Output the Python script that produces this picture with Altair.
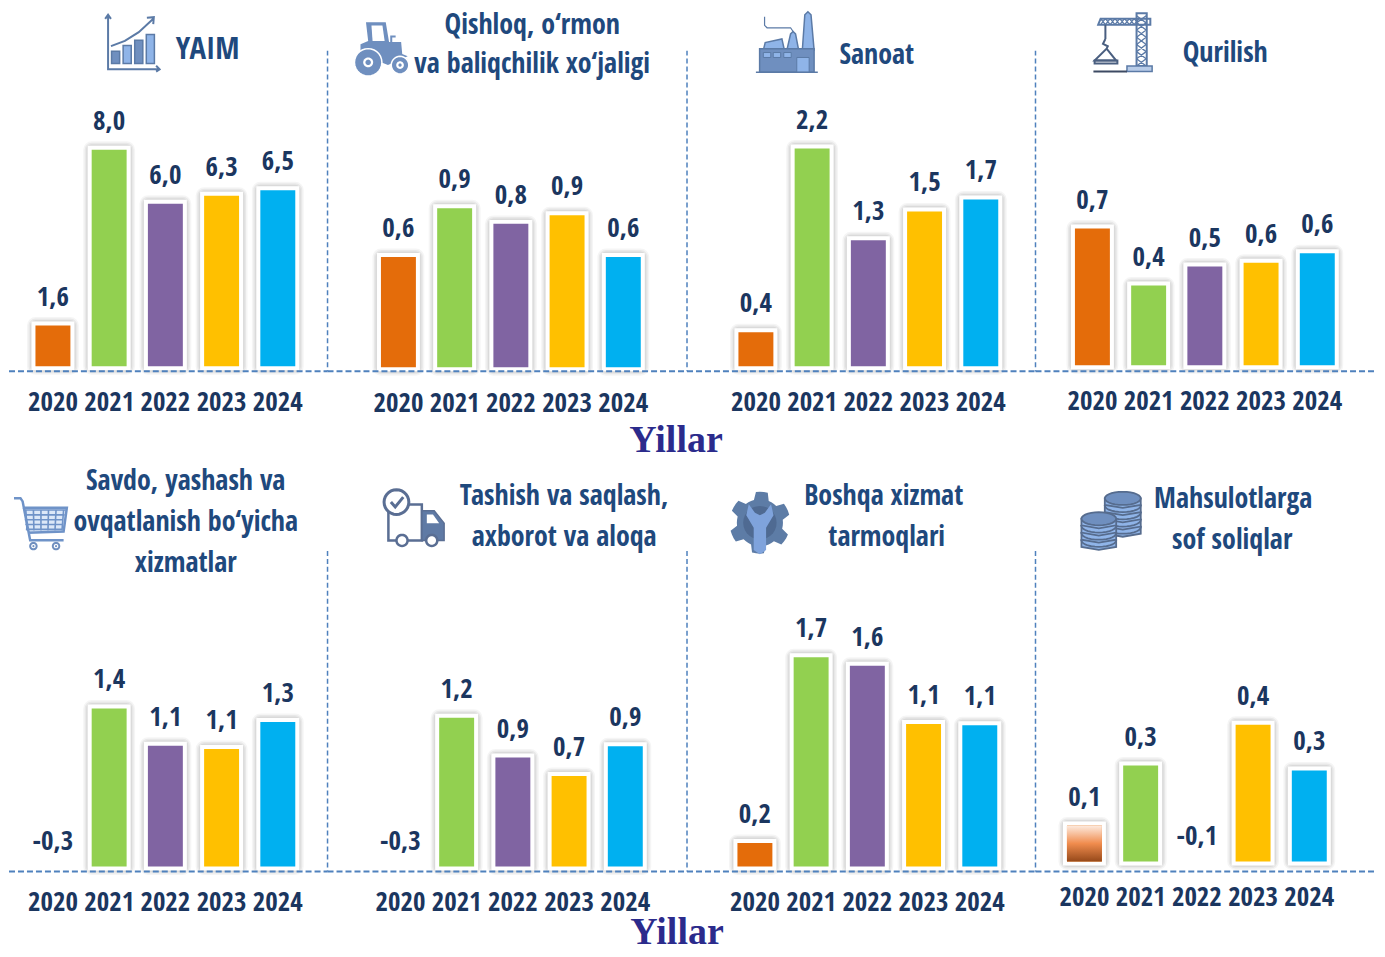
import math
import altair as alt
import pandas as pd

YEARS = ["2020", "2021", "2022", "2023", "2024"]
COLORS = ["#E46C0A", "#92D050", "#8064A2", "#FFC000", "#00B0F0"]

yaim_values = [1.5, 8.0, 6.0, 6.3, 6.5]
yaim_labels = ["1,6", "8,0", "6,0", "6,3", "6,5"]
qishloq_values = [0.63, 0.91, 0.82, 0.87, 0.63]
qishloq_labels = ["0,6", "0,9", "0,8", "0,9", "0,6"]
sanoat_values = [0.34, 2.18, 1.26, 1.55, 1.67]
sanoat_labels = ["0,4", "2,2", "1,3", "1,5", "1,7"]
qurilish_values = [0.72, 0.42, 0.52, 0.54, 0.59]
qurilish_labels = ["0,7", "0,4", "0,5", "0,6", "0,6"]
savdo_values = [None, 1.40, 1.07, 1.04, 1.28]
savdo_labels = ["-0,3", "1,4", "1,1", "1,1", "1,3"]
tashish_values = [None, 1.20, 0.88, 0.73, 0.97]
tashish_labels = ["-0,3", "1,2", "0,9", "0,7", "0,9"]
boshqa_values = [0.19, 1.69, 1.62, 1.15, 1.14]
boshqa_labels = ["0,2", "1,7", "1,6", "1,1", "1,1"]
soliq_values = [0.15, 0.40, None, 0.57, 0.38]
soliq_labels = ["0,1", "0,3", "-0,1", "0,4", "0,3"]

FONT = "'Noto Sans ExtraCondensed','Noto Sans Condensed','Open Sans Condensed','Roboto Condensed',Roboto"
DARK = "#1B365F"
TITLE = "#1F497D"
LINE = "#4F81BD"
STK = "#5B7AA6"
MID = "#6F8FBF"
LITE = "#8FB4E8"
ONE = pd.DataFrame({"k": [0]})


def n(v):
    return f"{(v - 50) / 50:.3f}"


def poly(pts, close=True):
    s = "M" + " L".join(f"{n(x)} {n(y)}" for x, y in pts)
    return s + (" Z" if close else "")


def rect(x, y, w, h):
    return poly([(x, y), (x + w, y), (x + w, y + h), (x, y + h)])


def circ(cx, cy, r, rx=None):
    rx = r if rx is None else rx
    return poly([(cx + rx * math.cos(i * math.pi / 14), cy + r * math.sin(i * math.pi / 14)) for i in range(28)])


def lines(segs):
    return " ".join(poly(s, False) for s in segs)


ICON_CHART = [
    (lines([[(9, 3), (9, 96), (97, 96)], [(4, 9), (9, 2), (14, 9)], [(92, 90), (98, 96), (92, 100)],
            [(14, 56), (38, 47), (62, 32), (88, 8)], [(76, 7), (88, 6), (87, 18)]]), "none", STK, 2),
    (rect(15, 65, 14, 21), MID, STK, 1.5),
    (rect(35, 55, 14, 31), LITE, STK, 1.5),
    (rect(55, 46, 14, 40), MID, STK, 1.5),
    (rect(75, 36, 14, 50), LITE, STK, 1.5),
]
ICON_TRACTOR = [
    (poly([(20, 2), (56, 2), (62, 38), (84, 38), (86, 60), (96, 64), (60, 80), (10, 60), (10, 42), (24, 36)]), MID, "none", 0),
    (poly([(30, 8), (50, 8), (54, 36), (32, 36)]), "#FFFFFF", "none", 0),
    (lines([[(66, 38), (66, 28), (74, 28)]]), "none", MID, 2),
    (circ(24, 75, 25), MID, "#FFFFFF", 1.5),
    (circ(24, 75, 9), "#FFFFFF", "none", 0),
    (circ(24, 75, 5), MID, "none", 0),
    (circ(82, 80, 16), MID, "#FFFFFF", 1.5),
    (circ(82, 80, 7), "#FFFFFF", "none", 0),
    (circ(82, 80, 3), MID, "none", 0),
]
ICON_FACTORY = [
    (lines([[(14, 8), (14, 22), (18, 26), (56, 26), (60, 32)]]), "none", STK, 1.2),
    (poly([(75, 62), (79, 5), (84, 0), (89, 5), (94, 62)]), LITE, STK, 1.5),
    (poly([(50, 62), (56, 36), (60, 32), (64, 36), (69, 62)]), LITE, STK, 1.5),
    (poly([(12, 62), (15, 50), (42, 44), (46, 62)]), LITE, STK, 1.5),
    (rect(6, 60, 88, 38), MID, STK, 1.5),
    (rect(12, 66, 12, 8), LITE, STK, 1),
    (rect(28, 66, 12, 8), LITE, STK, 1),
    (rect(45, 66, 12, 8), LITE, STK, 1),
    (rect(66, 74, 20, 24), LITE, STK, 1),
    (lines([[(0, 98), (100, 98)]]), "none", STK, 1.5),
]
lattice = []
for i in range(7):
    y = 5 + i * 12
    lattice += [[(72, y), (88, y + 12)], [(88, y), (72, y + 12)]]
for i in range(8):
    x = 12 + i * 8
    lattice += [[(x, 10), (x + 8, 20)], [(x + 8, 10), (x, 20)]]
ICON_CRANE = [
    (lines(lattice), "none", STK, 1.3),
    (rect(72, 1, 17, 88), "none", STK, 2),
    (poly([(8, 20), (12, 10), (95, 10), (95, 20)]), "none", STK, 2),
    (lines([[(20, 20), (20, 44)], [(20, 44), (16, 52), (24, 56), (22, 60), (2, 80), (38, 80), (22, 60)]]), "none", "#4A5F80", 2),
    (rect(2, 80, 38, 5), "none", "#4A5F80", 2),
    (rect(56, 89, 42, 9), "#B8CCE8", STK, 1.5),
    (lines([[(0, 98), (56, 98)]]), "none", "#3D4A63", 2),
]
grid = []
for i in range(5):
    y = 26 + i * 9
    grid.append([(18 + i, y), (96 - i * 2, y)])
for i in range(6):
    x = 22 + i * 14
    grid.append([(x, 26), (x + 2 - i, 64)])
ICON_CART = [
    (poly([(16, 22), (98, 22), (92, 66), (26, 68)]), "#DCE8F8", "none", 0),
    (lines(grid), "none", "#6F93C8", 1.6),
    (lines([[(0, 4), (12, 4), (16, 10), (30, 82), (92, 82)], [(26, 68), (92, 66), (98, 22), (16, 22)]]), "none", "#6F93C8", 2.5),
    (circ(36, 93, 6), "#FFFFFF", "#6F8FBF", 2),
    (circ(36, 93, 2), "#6F8FBF", "none", 0),
    (circ(78, 93, 6), "#FFFFFF", "#6F8FBF", 2),
    (circ(78, 93, 2), "#6F8FBF", "none", 0),
]
ICON_TRUCK = [
    (poly([(8, 30), (62, 30), (62, 88), (8, 88)]), "#FFFFFF", "#5A6E93", 2.5),
    (poly([(62, 40), (82, 40), (98, 60), (98, 88), (62, 88)]), "#5F7AA5", "#5A6E93", 1.5),
    (poly([(70, 46), (80, 46), (90, 60), (70, 60)]), "#FFFFFF", "none", 0),
    (circ(21, 26, 20), "#FFFFFF", "#5A6E93", 3),
    (lines([[(12, 26), (19, 34), (32, 18)]]), "none", "#5A6E93", 3),
    (circ(30, 88, 9), "#FFFFFF", "#5A6E93", 2.5),
    (circ(78, 88, 9), "#FFFFFF", "#5A6E93", 2.5),
]
gear_pts = []
for i in range(48):
    a = i * 2 * math.pi / 48
    r = 50 if (i + 2) % 8 < 4 else 38
    gear_pts.append((50 + r * math.sin(a) * 0.98, 48 + r * math.cos(a)))
ICON_GEAR = [
    (poly(gear_pts), "#5D7CA6", "none", 0),
    (circ(50, 48, 27), "#4F6A92", "none", 0),
    (poly([(32, 18), (42, 32), (50, 36), (58, 32), (68, 18), (72, 36), (60, 56), (60, 92), (50, 99), (40, 92), (40, 56), (28, 36)]), "#7FA3DC", "none", 0),
]
ICON_COINS = []
for cx, ys, rx in [(69, [14, 26, 38, 50, 62], 30), (29, [48, 60, 72, 84], 29)]:
    for y in reversed(ys):
        ICON_COINS.append((poly([(cx - rx, y), (cx - rx, y + 11), (cx, y + 16), (cx + rx, y + 11), (cx + rx, y)]), LITE, "#566C8E", 1.8))
        ICON_COINS.append((circ(cx, y, 11, rx), MID if y == ys[0] else LITE, "#566C8E", 1.8))

PANELS = [
    dict(values=yaim_values, labels=yaim_labels, left=8, top=8, right=327, bottom=366, ppu=27.1,
         c1=52, line=371, vtop=None, icon=ICON_CHART, ix=131, iy=42, isz=58,
         titles=[("YAIM", 207, 49, 31)]),
    dict(values=qishloq_values, labels=qishloq_labels, left=327, top=8, right=687, bottom=367, ppu=175,
         c1=398, line=371, vtop=50, icon=ICON_TRACTOR, ix=382, iy=48, isz=55,
         titles=[("Qishloq, o\u2018rmon", 532, 25, 28), ("va baliqchilik xo\u2018jaligi", 532, 64, 28)]),
    dict(values=sanoat_values, labels=sanoat_labels, left=687, top=8, right=1036, bottom=366, ppu=100,
         c1=756, line=371, vtop=50, icon=ICON_FACTORY, ix=787, iy=42, isz=62,
         titles=[("Sanoat", 877, 55, 28)]),
    dict(values=qurilish_values, labels=qurilish_labels, left=1036, top=8, right=1377, bottom=365, ppu=190,
         c1=1093, line=371, vtop=50, icon=ICON_CRANE, ix=1124, iy=42, isz=60,
         titles=[("Qurilish", 1226, 53, 28)]),
    dict(values=savdo_values, labels=savdo_labels, left=8, top=460, right=327, bottom=866, ppu=113,
         c1=52, line=871, vtop=None, icon=ICON_CART, ix=40, iy=522, isz=54,
         titles=[("Savdo, yashash va", 185, 481, 28), ("ovqatlanish bo\u2018yicha", 185, 522, 28), ("xizmatlar", 185, 563, 28)]),
    dict(values=tashish_values, labels=tashish_labels, left=327, top=460, right=687, bottom=866, ppu=124,
         c1=400, line=871, vtop=550, icon=ICON_TRUCK, ix=414, iy=516, isz=62,
         titles=[("Tashish va saqlash,", 564, 496, 28), ("axborot va aloqa", 564, 537, 28)]),
    dict(values=boshqa_values, labels=boshqa_labels, left=687, top=460, right=1036, bottom=866, ppu=124,
         c1=755, line=871, vtop=550, icon=ICON_GEAR, ix=760, iy=523, isz=62,
         titles=[("Boshqa xizmat", 884, 496, 28), ("tarmoqlari", 887, 537, 28)]),
    dict(values=soliq_values, labels=soliq_labels, left=1036, top=460, right=1377, bottom=861, ppu=240,
         c1=1085, line=871, vtop=550, icon=ICON_COINS, ix=1112, iy=519, isz=60,
         titles=[("Mahsulotlarga", 1234, 499, 28), ("sof soliqlar", 1233, 540, 28)]),
]
STEP = 56.3


def build(p, extra=None, gradient=False):
    w = p["right"] - p["left"]
    h = p["bottom"] - p["top"]
    L, T = p["left"], p["top"]
    df = pd.DataFrame({"year": YEARS, "value": p["values"], "label": p["labels"]})
    df["neg"] = df["label"].str.startswith("-")
    df["pos"] = df["value"].fillna(0)
    start = p["c1"] - L - STEP / 2
    xenc = alt.X("year:N", title=None, sort=YEARS,
                 scale=alt.Scale(type="band", domain=YEARS, range=[start, start + 5 * STEP], paddingInner=0, paddingOuter=0),
                 axis=alt.Axis(domain=False, ticks=False, grid=False, labelAngle=0, labelFont=FONT, labelFontSize=27,
                               labelFontWeight="bold", labelColor=DARK, labelPadding=23, labelOverlap=False,
                               labelFlush=False))
    yenc = alt.Y("value:Q", title=None, axis=None,
                 scale=alt.Scale(domain=[0, h / p["ppu"]], range=[h, 0], nice=False, zero=True))
    ypos = alt.Y("pos:Q", title=None, axis=None,
                 scale=alt.Scale(domain=[0, h / p["ppu"]], range=[h, 0], nice=False, zero=True))
    base = alt.Chart(df)
    bars = base.transform_filter("isValid(datum.value)")
    layers = [
        bars.mark_bar(size=35, fill="#000000", fillOpacity=0, stroke="#000000", strokeOpacity=0.04, strokeWidth=17,
                      strokeJoin="round").encode(x=xenc, y=yenc),
        bars.mark_bar(size=35, fill="#000000", fillOpacity=0, stroke="#000000", strokeOpacity=0.05, strokeWidth=14,
                      strokeJoin="round").encode(x=xenc, y=yenc),
        bars.mark_bar(size=35, fill="#000000", fillOpacity=0, stroke="#000000", strokeOpacity=0.06, strokeWidth=11,
                      strokeJoin="round").encode(x=xenc, y=yenc),
        bars.mark_bar(size=35, fill="#FFFFFF", stroke="#FFFFFF", strokeWidth=8).encode(x=xenc, y=yenc),
        bars.mark_bar(size=35).encode(
            x=xenc, y=yenc, color=alt.Color("year:N", scale=alt.Scale(domain=YEARS, range=COLORS), legend=None)),
    ]
    if gradient:
        layers.append(bars.transform_filter("datum.year == '2020'").mark_bar(
            size=35,
            fill={"gradient": "linear", "x1": 0, "y1": 0, "x2": 0, "y2": 1,
                  "stops": [{"offset": 0, "color": "#FDEBDF"}, {"offset": 0.5, "color": "#F08C4E"},
                            {"offset": 1, "color": "#96491A"}]}).encode(x=xenc, y=yenc))
    layers.append(base.transform_filter("!datum.neg").mark_text(
        font=FONT, fontSize=27, fontWeight="bold", color=DARK, dy=-28, baseline="middle").encode(x=xenc, y=ypos, text="label:N"))
    layers.append(base.transform_filter("datum.neg").mark_text(
        font=FONT, fontSize=27, fontWeight="bold", color=DARK, dy=-24, baseline="middle").encode(x=xenc, y=ypos, text="label:N"))
    layers.append(alt.Chart(ONE).mark_rule(color=LINE, strokeWidth=2, strokeDash=[6, 3]).encode(
        x=alt.value(0), x2=alt.value(w), y=alt.value(p["line"] - T)))
    if p["vtop"] is not None:
        layers.append(alt.Chart(ONE).mark_rule(color=LINE, strokeWidth=1.5, strokeDash=[5, 3]).encode(
            x=alt.value(0), y=alt.value(p["vtop"] - T), y2=alt.value(p["line"] - T)))
    for text, x, y, size in p["titles"]:
        layers.append(alt.Chart(ONE).mark_text(
            font=FONT, fontSize=size, fontWeight="bold", color=TITLE, baseline="middle", align="center").encode(
            x=alt.value(x - L), y=alt.value(y - T), text=alt.value(text)))
    for path, fill, stroke, sw in p["icon"]:
        kw = dict(shape=path, size=p["isz"] ** 2, opacity=1, strokeWidth=sw)
        kw["fill"] = "transparent" if fill == "none" else fill
        kw["stroke"] = "transparent" if stroke == "none" else stroke
        layers.append(alt.Chart(ONE).mark_point(**kw).encode(x=alt.value(p["ix"] - L), y=alt.value(p["iy"] - T)))
    if extra:
        layers.append(alt.Chart(ONE).mark_text(
            font="Liberation Serif", fontSize=38, fontWeight="bold", color="#2B2B8C", baseline="middle", align="center").encode(
            x=alt.value(extra[1] - L), y=alt.value(extra[2] - T), text=alt.value(extra[0])))
    return alt.layer(*layers).properties(width=w, height=h)


panels = []
for i, p in enumerate(PANELS):
    extra = None
    if i == 1:
        extra = ("Yillar", 676, 441)
    if i == 5:
        extra = ("Yillar", 677, 933)
    panels.append(build(p, extra, gradient=(i == 7)))

chart = alt.concat(*panels, columns=4, spacing={"column": 0, "row": 94},
                   bounds="flush", align="each").properties(
    padding=0, background="white").configure_view(stroke=None)

chart.save("out.html", embed_options={"renderer": "svg", "actions": False})
